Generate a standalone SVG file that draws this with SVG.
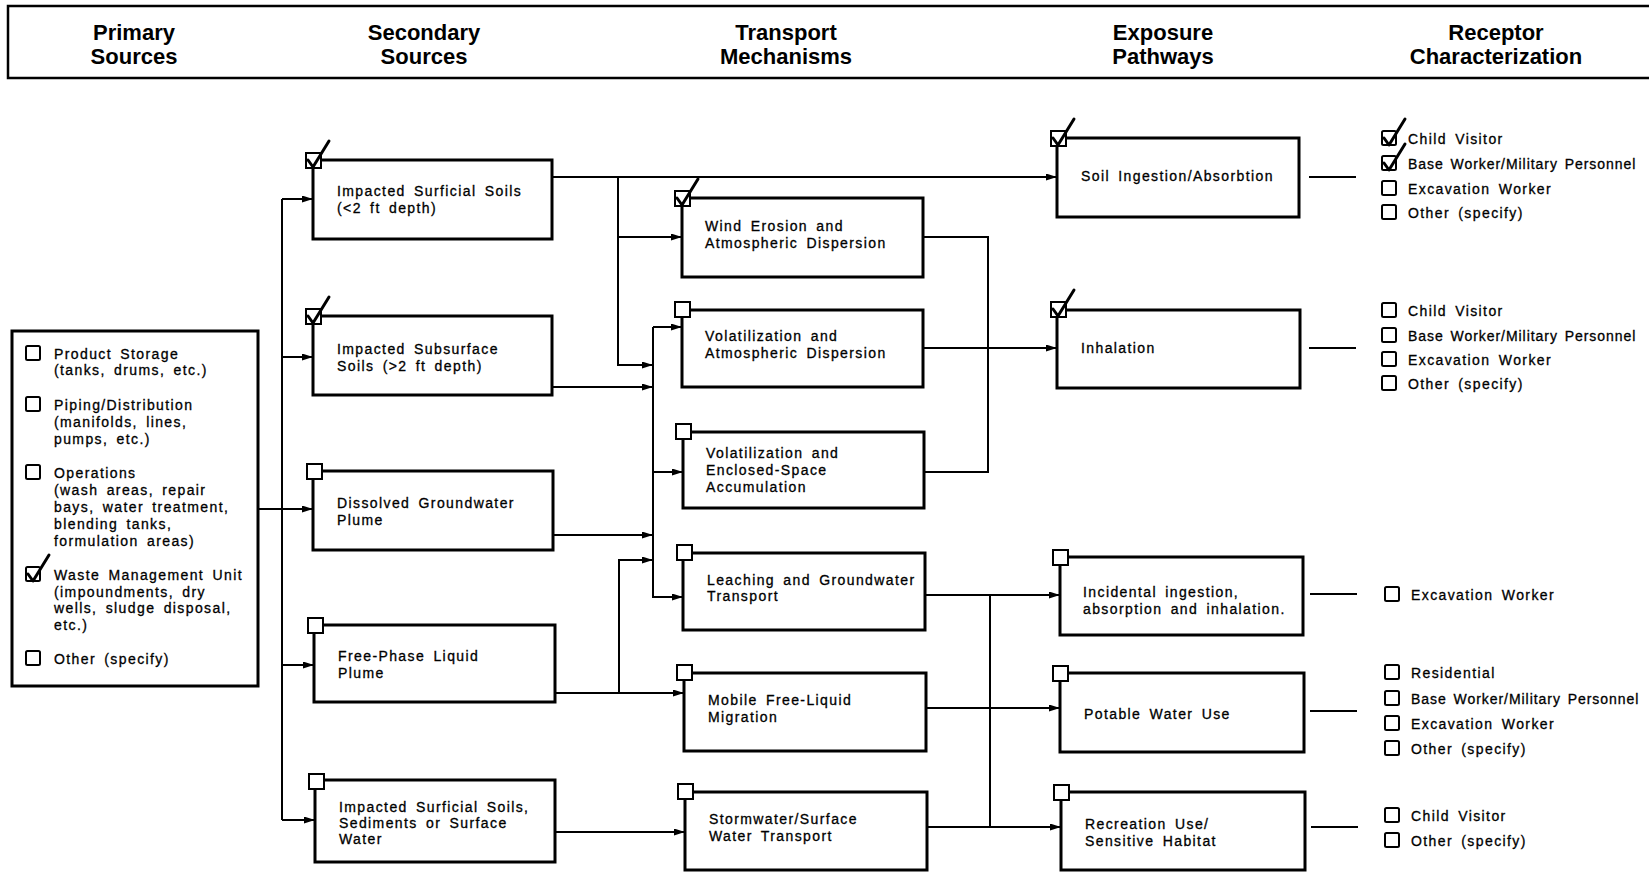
<svg xmlns="http://www.w3.org/2000/svg" xmlns:xlink="http://www.w3.org/1999/xlink" width="1649" height="873" viewBox="0 0 1649 873">
<style>
.box{fill:#fff;stroke:#000;stroke-width:3}
.cb{fill:#fff;stroke:#000;stroke-width:2}
.ln{fill:none;stroke:#000;stroke-width:2}
.tk{fill:none;stroke:#000;stroke-width:3;stroke-linecap:round;stroke-linejoin:round}
.t{font-family:"Liberation Sans",Arial,sans-serif;font-size:14px;letter-spacing:1.4px;word-spacing:3px;fill:#000;stroke:#000;stroke-width:0.3px}
.tn{letter-spacing:0.95px;word-spacing:2px}
.h{font-family:"Liberation Sans",Arial,sans-serif;font-size:22px;font-weight:bold;text-anchor:middle;fill:#000}
</style>
<defs>
<marker id="ah" markerWidth="11" markerHeight="7" refX="11" refY="3.5" orient="auto" markerUnits="userSpaceOnUse"><path d="M0,0 L11,3.5 L0,7 z" fill="#000"/></marker>
<path id="tick" class="tk" d="M2,7 L7,14 L23,-12"/>
</defs>
<rect width="1649" height="873" fill="#fff"/>

<g id="header">
<path d="M1660,6 H8 V78 H1660" fill="none" stroke="#000" stroke-width="2.5"/>
<text class="h" x="134" y="40">Primary</text><text class="h" x="134" y="64">Sources</text>
<text class="h" x="424" y="40">Secondary</text><text class="h" x="424" y="64">Sources</text>
<text class="h" x="786" y="40">Transport</text><text class="h" x="786" y="64">Mechanisms</text>
<text class="h" x="1163" y="40">Exposure</text><text class="h" x="1163" y="64">Pathways</text>
<text class="h" x="1496" y="40">Receptor</text><text class="h" x="1496" y="64">Characterization</text>
</g>

<g id="connectors">
<path class="ln" d="M258,509 H313" marker-end="url(#ah)"/>
<path class="ln" d="M282,199 V820"/>
<path class="ln" d="M282,199 H313" marker-end="url(#ah)"/>
<path class="ln" d="M282,357 H313" marker-end="url(#ah)"/>
<path class="ln" d="M282,665 H314" marker-end="url(#ah)"/>
<path class="ln" d="M282,820 H315" marker-end="url(#ah)"/>
<path class="ln" d="M552,177 H1057" marker-end="url(#ah)"/>
<path class="ln" d="M618,177 V365 H653" marker-end="url(#ah)"/>
<path class="ln" d="M618,237 H682" marker-end="url(#ah)"/>
<path class="ln" d="M552,387 H653" marker-end="url(#ah)"/>
<path class="ln" d="M553,535 H653" marker-end="url(#ah)"/>
<path class="ln" d="M555,693 H684" marker-end="url(#ah)"/>
<path class="ln" d="M619,693 V560 H653" marker-end="url(#ah)"/>
<path class="ln" d="M556,832 H685" marker-end="url(#ah)"/>
<path class="ln" d="M653,327 V597 H683" marker-end="url(#ah)"/>
<path class="ln" d="M653,327 H682" marker-end="url(#ah)"/>
<path class="ln" d="M653,472 H683" marker-end="url(#ah)"/>
<path class="ln" d="M923,237 H988 V472 H924"/>
<path class="ln" d="M923,348 H1057" marker-end="url(#ah)"/>
<path class="ln" d="M925,595 H1060" marker-end="url(#ah)"/>
<path class="ln" d="M926,708 H1060" marker-end="url(#ah)"/>
<path class="ln" d="M927,827 H1061" marker-end="url(#ah)"/>
<path class="ln" d="M990,595 V827"/>
<path class="ln" d="M1309,177 H1356 M1309,348 H1356 M1310,594 H1357 M1310,711 H1357 M1311,827 H1358"/>
</g>

<g id="primary-sources">
<rect class="box" x="12" y="331" width="246" height="355"/>
<rect class="cb" x="26" y="346" width="14" height="14" rx="1.5"/>
<text class="t" x="54" y="359">Product Storage</text>
<text class="t" x="54" y="375">(tanks, drums, etc.)</text>
<rect class="cb" x="26" y="397" width="14" height="14" rx="1.5"/>
<text class="t" x="54" y="410">Piping/Distribution</text>
<text class="t" x="54" y="427">(manifolds, lines,</text>
<text class="t" x="54" y="444">pumps, etc.)</text>
<rect class="cb" x="26" y="465" width="14" height="14" rx="1.5"/>
<text class="t" x="54" y="478">Operations</text>
<text class="t" x="54" y="495">(wash areas, repair</text>
<text class="t" x="54" y="512">bays, water treatment,</text>
<text class="t" x="54" y="529">blending tanks,</text>
<text class="t" x="54" y="546">formulation areas)</text>
<rect class="cb" x="26" y="567" width="14" height="14" rx="1.5"/>
<use xlink:href="#tick" x="26" y="567"/>
<text class="t" x="54" y="580">Waste Management Unit</text>
<text class="t" x="54" y="597">(impoundments, dry</text>
<text class="t" x="54" y="613">wells, sludge disposal,</text>
<text class="t" x="54" y="630">etc.)</text>
<rect class="cb" x="26" y="651" width="14" height="14" rx="1.5"/>
<text class="t" x="54" y="664">Other (specify)</text>
</g>

<g id="s1">
<rect class="box" x="313" y="160" width="239" height="79"/>
<rect class="cb" x="306" y="153" width="15" height="15"/>
<use xlink:href="#tick" x="306" y="153"/>
<text class="t" x="337" y="196">Impacted Surficial Soils</text>
<text class="t" x="337" y="213">(&lt;2 ft depth)</text>
</g>
<g id="s2">
<rect class="box" x="313" y="316" width="239" height="79"/>
<rect class="cb" x="306" y="309" width="15" height="15"/>
<use xlink:href="#tick" x="306" y="309"/>
<text class="t" x="337" y="354">Impacted Subsurface</text>
<text class="t" x="337" y="371">Soils (&gt;2 ft depth)</text>
</g>
<g id="s3">
<rect class="box" x="313" y="471" width="240" height="79"/>
<rect class="cb" x="307" y="464" width="15" height="15"/>
<text class="t" x="337" y="508">Dissolved Groundwater</text>
<text class="t" x="337" y="525">Plume</text>
</g>
<g id="s4">
<rect class="box" x="314" y="625" width="241" height="77"/>
<rect class="cb" x="308" y="618" width="15" height="15"/>
<text class="t" x="338" y="661">Free-Phase Liquid</text>
<text class="t" x="338" y="678">Plume</text>
</g>
<g id="s5">
<rect class="box" x="315" y="780" width="240" height="82"/>
<rect class="cb" x="309" y="774" width="15" height="15"/>
<text class="t" x="339" y="812">Impacted Surficial Soils,</text>
<text class="t" x="339" y="828">Sediments or Surface</text>
<text class="t" x="339" y="844">Water</text>
</g>

<g id="t1">
<rect class="box" x="682" y="198" width="241" height="79"/>
<rect class="cb" x="675" y="191" width="15" height="15"/>
<use xlink:href="#tick" x="675" y="191"/>
<text class="t" x="705" y="231">Wind Erosion and</text>
<text class="t" x="705" y="248">Atmospheric Dispersion</text>
</g>
<g id="t2">
<rect class="box" x="682" y="310" width="241" height="77"/>
<rect class="cb" x="675" y="302" width="15" height="15"/>
<text class="t" x="705" y="341">Volatilization and</text>
<text class="t" x="705" y="358">Atmospheric Dispersion</text>
</g>
<g id="t3">
<rect class="box" x="683" y="432" width="241" height="76"/>
<rect class="cb" x="676" y="424" width="15" height="15"/>
<text class="t" x="706" y="458">Volatilization and</text>
<text class="t" x="706" y="475">Enclosed-Space</text>
<text class="t" x="706" y="492">Accumulation</text>
</g>
<g id="t4">
<rect class="box" x="683" y="553" width="242" height="77"/>
<rect class="cb" x="677" y="545" width="15" height="15"/>
<text class="t" x="707" y="585">Leaching and Groundwater</text>
<text class="t" x="707" y="601">Transport</text>
</g>
<g id="t5">
<rect class="box" x="684" y="673" width="242" height="78"/>
<rect class="cb" x="677" y="665" width="15" height="15"/>
<text class="t" x="708" y="705">Mobile Free-Liquid</text>
<text class="t" x="708" y="722">Migration</text>
</g>
<g id="t6">
<rect class="box" x="685" y="792" width="242" height="78"/>
<rect class="cb" x="678" y="784" width="15" height="15"/>
<text class="t" x="709" y="824">Stormwater/Surface</text>
<text class="t" x="709" y="841">Water Transport</text>
</g>

<g id="e1">
<rect class="box" x="1057" y="138" width="242" height="79"/>
<rect class="cb" x="1051" y="131" width="15" height="15"/>
<use xlink:href="#tick" x="1051" y="131"/>
<text class="t" x="1081" y="181">Soil Ingestion/Absorbtion</text>
</g>
<g id="e2">
<rect class="box" x="1057" y="310" width="243" height="78"/>
<rect class="cb" x="1051" y="302" width="15" height="15"/>
<use xlink:href="#tick" x="1051" y="302"/>
<text class="t" x="1081" y="353">Inhalation</text>
</g>
<g id="e3">
<rect class="box" x="1060" y="557" width="243" height="78"/>
<rect class="cb" x="1053" y="550" width="15" height="15"/>
<text class="t" x="1083" y="597">Incidental ingestion,</text>
<text class="t" x="1083" y="614">absorption and inhalation.</text>
</g>
<g id="e4">
<rect class="box" x="1060" y="673" width="244" height="79"/>
<rect class="cb" x="1053" y="666" width="15" height="15"/>
<text class="t" x="1084" y="719">Potable Water Use</text>
</g>
<g id="e5">
<rect class="box" x="1061" y="792" width="244" height="78"/>
<rect class="cb" x="1054" y="785" width="15" height="15"/>
<text class="t" x="1085" y="829">Recreation Use/</text>
<text class="t" x="1085" y="846">Sensitive Habitat</text>
</g>

<g id="r1">
<rect class="cb" x="1382" y="131" width="14" height="14" rx="1.5"/>
<use xlink:href="#tick" x="1382" y="131"/>
<text class="t" x="1408" y="144">Child Visitor</text>
<rect class="cb" x="1382" y="156" width="14" height="14" rx="1.5"/>
<use xlink:href="#tick" x="1382" y="156"/>
<text class="t tn" x="1408" y="169">Base Worker/Military Personnel</text>
<rect class="cb" x="1382" y="181" width="14" height="14" rx="1.5"/>
<text class="t" x="1408" y="194">Excavation Worker</text>
<rect class="cb" x="1382" y="205" width="14" height="14" rx="1.5"/>
<text class="t" x="1408" y="218">Other (specify)</text>
</g>
<g id="r2">
<rect class="cb" x="1382" y="303" width="14" height="14" rx="1.5"/>
<text class="t" x="1408" y="316">Child Visitor</text>
<rect class="cb" x="1382" y="328" width="14" height="14" rx="1.5"/>
<text class="t tn" x="1408" y="341">Base Worker/Military Personnel</text>
<rect class="cb" x="1382" y="352" width="14" height="14" rx="1.5"/>
<text class="t" x="1408" y="365">Excavation Worker</text>
<rect class="cb" x="1382" y="376" width="14" height="14" rx="1.5"/>
<text class="t" x="1408" y="389">Other (specify)</text>
</g>
<g id="r3">
<rect class="cb" x="1385" y="587" width="14" height="14" rx="1.5"/>
<text class="t" x="1411" y="600">Excavation Worker</text>
</g>
<g id="r4">
<rect class="cb" x="1385" y="665" width="14" height="14" rx="1.5"/>
<text class="t" x="1411" y="678">Residential</text>
<rect class="cb" x="1385" y="691" width="14" height="14" rx="1.5"/>
<text class="t tn" x="1411" y="704">Base Worker/Military Personnel</text>
<rect class="cb" x="1385" y="716" width="14" height="14" rx="1.5"/>
<text class="t" x="1411" y="729">Excavation Worker</text>
<rect class="cb" x="1385" y="741" width="14" height="14" rx="1.5"/>
<text class="t" x="1411" y="754">Other (specify)</text>
</g>
<g id="r5">
<rect class="cb" x="1385" y="808" width="14" height="14" rx="1.5"/>
<text class="t" x="1411" y="821">Child Visitor</text>
<rect class="cb" x="1385" y="833" width="14" height="14" rx="1.5"/>
<text class="t" x="1411" y="846">Other (specify)</text>
</g>
</svg>
